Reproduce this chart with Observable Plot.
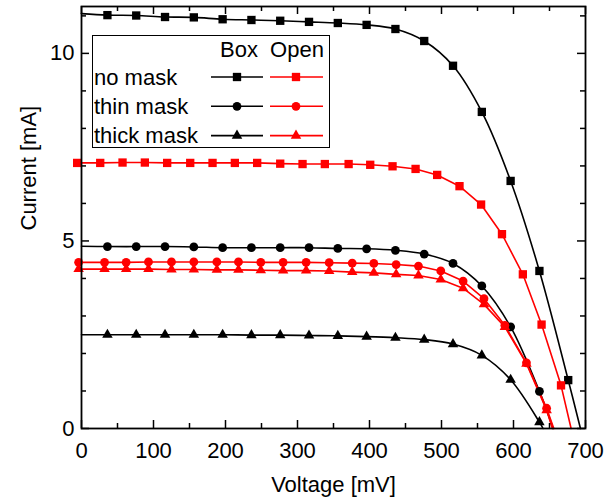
<!DOCTYPE html>
<html><head><meta charset="utf-8">
<script src="https://cdn.jsdelivr.net/npm/d3@7"></script>
<script src="https://cdn.jsdelivr.net/npm/@observablehq/plot@0.6"></script>
<style>
body{margin:0;background:#fff;font-family:"Liberation Sans",Arial,sans-serif;}
#wrap{position:relative;width:604px;height:502px;}
#legend{position:absolute;left:92px;top:35px;}
</style></head><body><div id="wrap"></div>
<script>
// ---- data ----
const seriesNames = ["no mask", "thin mask", "thick mask"];
const groupNames = ["Box", "Open"];
const symbols = ["square", "circle", "triangle"];

// Box measurements (black), voltage in mV, current in mA
const boxV = [36,76,116,156,196,236,276,316,356,396,436,476,516,556,596,636,676];
const boxNoMaskI = [11.02,11.01,10.97,10.96,10.91,10.89,10.87,10.84,10.81,10.76,10.65,10.33,9.67,8.44,6.60,4.20,1.29];
const boxThinI   = [4.85,4.85,4.85,4.84,4.82,4.82,4.82,4.82,4.80,4.79,4.75,4.65,4.40,3.80,2.71,0.99];
const boxThickI  = [2.50,2.50,2.50,2.50,2.50,2.49,2.49,2.48,2.47,2.45,2.42,2.37,2.25,1.95,1.30,0.17];
const boxIsc = [11.06, 4.86, 2.50];   // fitted curve at 0 mV
const boxVoc = [693, 655, 641];       // fitted curve at 0 mA

// Open measurements (red)
const openNoMaskV = [-6,26,57,88,119,151,182,213,244,276,307,338,371,401,432,464,494,525,555,584,613,639,666];
const openNoMaskI = [7.08,7.08,7.09,7.09,7.08,7.08,7.08,7.08,7.08,7.06,7.05,7.05,7.05,7.03,6.99,6.92,6.76,6.46,5.97,5.18,4.11,2.77,1.15];
const openMaskV = [-4,32,62,93,125,156,188,218,249,280,312,344,376,406,437,468,499,530,559,588,618,646];
const openThinI  = [4.43,4.43,4.43,4.44,4.44,4.44,4.44,4.44,4.43,4.43,4.43,4.42,4.41,4.40,4.37,4.33,4.20,3.93,3.46,2.75,1.75,0.54];
const openThickI = [4.25,4.25,4.25,4.25,4.24,4.24,4.23,4.23,4.22,4.21,4.21,4.20,4.17,4.15,4.11,4.08,3.97,3.74,3.31,2.71,1.73,0.49];
const openVoc = [680, 656, 654];

// axis ticks
const xMajor = [0,100,200,300,400,500,600,700];
const xMinor = [50,150,250,350,450,550,650];
const yMajor = [0,5,10];
const yMinor = [1,2,3,4,6,7,8,9,11];

// ---- build tables ----
const boxI = [boxNoMaskI, boxThinI, boxThickI];
const openV = [openNoMaskV, openMaskV, openMaskV];
const openI = [openNoMaskI, openThinI, openThickI];

const boxPts = [], boxLine = [], openPts = [], openLine = [];
seriesNames.forEach((s, k) => {
  boxLine.push({V: 0, I: boxIsc[k], s});
  boxI[k].forEach((I, j) => {
    const d = {V: boxV[j], I, s, sym: symbols[k]};
    boxPts.push(d); boxLine.push(d);
  });
  boxLine.push({V: boxVoc[k], I: 0, s});
  openI[k].forEach((I, j) => {
    const d = {V: openV[k][j], I, s, sym: symbols[k]};
    openPts.push(d); openLine.push(d);
  });
  openLine.push({V: openVoc[k], I: 0, s});
});

const W = 604, H = 502, mL = 81, mR = 19, mT = 6, mB = 74;
const fw = W - mL - mR, fh = H - mT - mB;
const rFor = {square: 4.7, circle: 4.4, triangle: 3.9};
const font = "'Liberation Sans', Arial, sans-serif";

function dots(data, color) {
  return symbols.map(sym => Plot.dot(data.filter(d => d.sym === sym),
    {x: "V", y: "I", symbol: () => sym, fill: color, stroke: "none", r: rFor[sym]}));
}

const chart = Plot.plot({
  width: W, height: H,
  marginLeft: mL, marginRight: mR, marginTop: mT, marginBottom: mB,
  style: {fontFamily: font, fontSize: "22px", color: "black", background: "white"},
  x: {domain: [0, 700]},
  y: {domain: [0, 11.25]},
  symbol: {type: "identity"},
  marks: [
    Plot.line(boxLine, {x: "V", y: "I", z: "s", stroke: "black", strokeWidth: 1.6, curve: "catmull-rom"}),
    Plot.line(openLine, {x: "V", y: "I", z: "s", stroke: "#ff0000", strokeWidth: 1.6}),
    ...dots(boxPts, "black"),
    ...dots(openPts, "#ff0000"),
    // inward ticks on all four sides
    Plot.tickX(xMajor, {x: d => d, insetTop: fh - 8, strokeWidth: 1.5}),
    Plot.tickX(xMinor, {x: d => d, insetTop: fh - 5, strokeWidth: 1.5}),
    Plot.tickX(xMajor, {x: d => d, insetBottom: fh - 8, strokeWidth: 1.5}),
    Plot.tickX(xMinor, {x: d => d, insetBottom: fh - 5, strokeWidth: 1.5}),
    Plot.tickY(yMajor, {y: d => d, insetRight: fw - 8, strokeWidth: 1.5}),
    Plot.tickY(yMinor, {y: d => d, insetRight: fw - 5, strokeWidth: 1.5}),
    Plot.tickY(yMajor, {y: d => d, insetLeft: fw - 8, strokeWidth: 1.5}),
    Plot.tickY(yMinor, {y: d => d, insetLeft: fw - 5, strokeWidth: 1.5}),
    Plot.frame({stroke: "black", strokeWidth: 1.8}),
    Plot.axisX({ticks: xMajor, tickSize: 0, tickPadding: 14, fontSize: 22, label: null, tickFormat: d => String(d)}),
    Plot.axisY({ticks: yMajor, tickSize: 0, tickPadding: 7, fontSize: 22, label: null, tickFormat: d => String(d)}),
    Plot.text(["Voltage [mV]"], {text: d => d, frameAnchor: "bottom", dy: 63, fontSize: 22}),
    Plot.text(["Current [mA]"], {text: d => d, frameAnchor: "left", dx: -53, dy: 13, rotate: -90, fontSize: 22})
  ]
});
const wrap = document.getElementById("wrap");
wrap.appendChild(chart);

// ---- legend (inside plot area, top-left) ----
const lg = d3.select(wrap).append("svg").attr("id", "legend")
  .attr("width", 240).attr("height", 115).style("font-family", font).style("font-size", "22px");
lg.append("rect").attr("x", 0.5).attr("y", 0.5).attr("width", 237).attr("height", 112)
  .attr("fill", "white").attr("stroke", "black").attr("stroke-width", 1);
lg.append("text").attr("x", 147).attr("y", 21.5).attr("text-anchor", "middle").text(groupNames[0]);
lg.append("text").attr("x", 205).attr("y", 21.5).attr("text-anchor", "middle").text(groupNames[1]);
const symGen = {square: d3.symbolSquare, circle: d3.symbolCircle, triangle: d3.symbolTriangle};
seriesNames.forEach((s, k) => {
  const cy = 42 + k * 29.3;
  lg.append("text").attr("x", 2).attr("y", cy + 7.5).text(s);
  [["black", 119, 171, 145], ["#ff0000", 178, 231, 204]].forEach(([c, x1, x2, cx]) => {
    lg.append("line").attr("x1", x1).attr("x2", x2).attr("y1", cy).attr("y2", cy)
      .attr("stroke", c).attr("stroke-width", 1.6);
    const r = rFor[symbols[k]];
    lg.append("path").attr("d", d3.symbol(symGen[symbols[k]], Math.PI * r * r)())
      .attr("transform", `translate(${cx},${cy})`).attr("fill", c);
  });
});
</script></body></html>
